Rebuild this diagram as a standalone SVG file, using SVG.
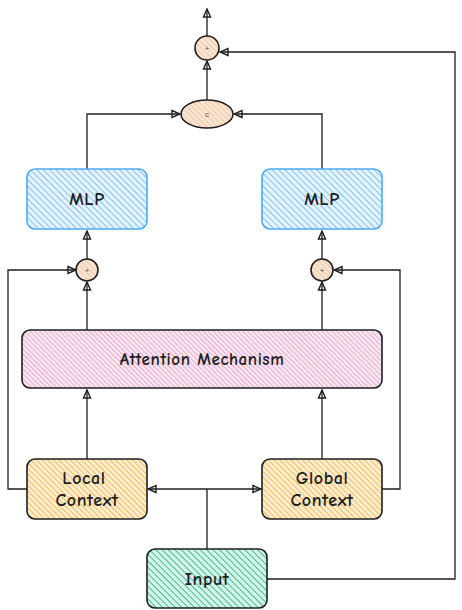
<svg xmlns="http://www.w3.org/2000/svg" width="462" height="610" viewBox="0 0 462 610">
<defs>
<pattern id="hBlue" patternUnits="userSpaceOnUse" width="4.5" height="4.5" patternTransform="rotate(-45)"><rect width="4.5" height="4.5" fill="#e4f2fd"/><line x1="0" y1="0" x2="0" y2="4.5" stroke="#6cbaf8" stroke-width="1.6"/></pattern>
<pattern id="hPink" patternUnits="userSpaceOnUse" width="3.5" height="3.5" patternTransform="rotate(-45)"><rect width="3.5" height="3.5" fill="#f9e6f0"/><line x1="0" y1="0" x2="0" y2="3.5" stroke="#de92bd" stroke-width="1.3"/></pattern>
<pattern id="hOrange" patternUnits="userSpaceOnUse" width="4" height="4" patternTransform="rotate(-45)"><rect width="4" height="4" fill="#fcecd0"/><line x1="0" y1="0" x2="0" y2="4" stroke="#f0b43c" stroke-width="1.6"/></pattern>
<pattern id="hGreen" patternUnits="userSpaceOnUse" width="4.5" height="4.5" patternTransform="rotate(-45)"><rect width="4.5" height="4.5" fill="#d4f2e7"/><line x1="0" y1="0" x2="0" y2="4.5" stroke="#2fb88a" stroke-width="1.7"/></pattern>
<pattern id="hPeach" patternUnits="userSpaceOnUse" width="4" height="4" patternTransform="rotate(-45)"><rect width="4" height="4" fill="#f9e4d2"/><line x1="0" y1="0" x2="0" y2="4" stroke="#ecc09a" stroke-width="1.5"/></pattern>
<marker id="arr" viewBox="0 0 10 10" refX="9" refY="5" markerWidth="10" markerHeight="10" orient="auto" markerUnits="userSpaceOnUse"><path d="M1,1.5 L9,5 L1,8.5 Z" fill="none" stroke="#1e1e1e" stroke-width="1.4"/></marker>
</defs>
<style>
.box{stroke:#1e1e1e;stroke-width:1.6}
.mlp{stroke:#4dabf7;stroke-width:1.6}
.op{stroke:#1e1e1e;stroke-width:1.6}
.lbl{font-family:"Comic Neue","Liberation Sans",sans-serif;font-size:18px;font-weight:700;fill:#1e1e1e;text-anchor:middle;dominant-baseline:central;letter-spacing:0.6px}
.sm{font-family:"Liberation Sans",sans-serif;font-size:8px;fill:#555;text-anchor:middle;dominant-baseline:central}
.c{fill:none;stroke:#1e1e1e;stroke-width:1.3;marker-end:url(#arr)}
.cn{fill:none;stroke:#1e1e1e;stroke-width:1.3}
</style>
<rect width="462" height="610" fill="#ffffff"/>
<g id="connectors">
<path class="c" d="M207,36 L207,9"/>
<path class="c" d="M207,100 L207,61"/>
<path class="c" d="M87,169 L87,114 L180,114"/>
<path class="c" d="M322,169 L322,114 L234,114"/>
<path class="c" d="M87,259 L87,231"/>
<path class="c" d="M322,259 L322,231"/>
<path class="c" d="M87,330 L87,282"/>
<path class="c" d="M322,330 L322,282"/>
<path class="c" d="M27,489 L8,489 L8,270 L76,270"/>
<path class="c" d="M382,489 L400,489 L400,270 L334,270"/>
<path class="c" d="M87,459 L87,390"/>
<path class="c" d="M322,459 L322,390"/>
<path class="cn" d="M207,549 L207,489"/>
<path class="c" d="M207,489 L148,489"/>
<path class="c" d="M207,489 L261,489"/>
<path class="c" d="M267,579 L455,579 L455,52 L220,52"/>
</g>
<g id="plusTop"><circle class="op" cx="207" cy="48" r="12" fill="url(#hPeach)"/><text class="sm" x="207" y="48">+</text></g>
<g id="concat"><ellipse class="op" cx="207" cy="114" rx="26" ry="14" fill="url(#hPeach)"/><text class="sm" x="207" y="114">c</text></g>
<g id="mlpLeft"><rect class="mlp" x="27" y="169" width="120" height="60" rx="8" fill="url(#hBlue)"/><text class="lbl" x="87" y="199">MLP</text></g>
<g id="mlpRight"><rect class="mlp" x="262" y="169" width="120" height="60" rx="8" fill="url(#hBlue)"/><text class="lbl" x="322" y="199">MLP</text></g>
<g id="plusLeft"><circle class="op" cx="87" cy="270" r="11" fill="url(#hPeach)"/><text class="sm" x="87" y="270">+</text></g>
<g id="plusRight"><circle class="op" cx="322" cy="270" r="11" fill="url(#hPeach)"/><text class="sm" x="322" y="270">+</text></g>
<g id="attention"><rect class="box" x="22" y="330" width="360" height="58" rx="8" fill="url(#hPink)"/><text class="lbl" x="202" y="359" style="font-size:17px">Attention Mechanism</text></g>
<g id="localContext"><rect class="box" x="27" y="459" width="120" height="60" rx="8" fill="url(#hOrange)"/><text class="lbl" x="84" y="478">Local</text><text class="lbl" x="87" y="500">Context</text></g>
<g id="globalContext"><rect class="box" x="262" y="459" width="120" height="60" rx="8" fill="url(#hOrange)"/><text class="lbl" x="322" y="478">Global</text><text class="lbl" x="322" y="500">Context</text></g>
<g id="input"><rect class="box" x="147" y="549" width="120" height="59" rx="8" fill="url(#hGreen)"/><text class="lbl" x="207" y="579">Input</text></g>
</svg>
